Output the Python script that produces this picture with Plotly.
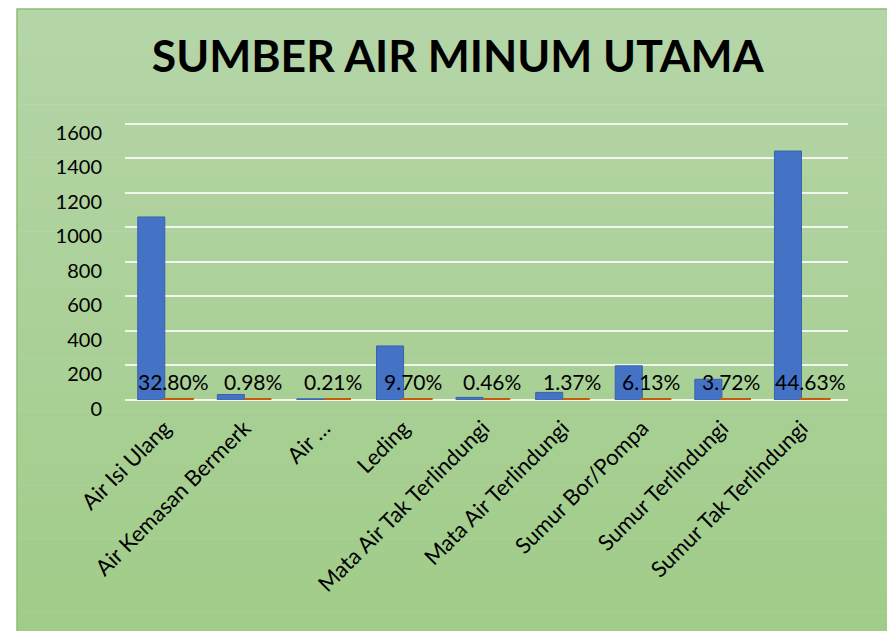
import plotly.graph_objects as go

# ---- data ----
categories = ["Air Isi Ulang", "Air Kemasan Bermerk", "Air …", "Leding",
              "Mata Air Tak Terlindungi", "Mata Air Terlindungi",
              "Sumur Bor/Pompa", "Sumur Terlindungi", "Sumur Tak Terlindungi"]
jumlah = [1060, 32, 7, 313, 15, 44, 198, 120, 1442]
persen = [0.3280, 0.0098, 0.0021, 0.0970, 0.0046, 0.0137, 0.0613, 0.0372, 0.4463]
y_ticks = [0, 200, 400, 600, 800, 1000, 1200, 1400, 1600]
title_text = "SUMBER AIR MINUM UTAMA"

W, H = 895, 631
OFF = 8  # page body margin
L, R, T, B = 125 - OFF, 47 + OFF, 122 - OFF, 231 + OFF
FONT = "Lato"

def px_to_paper(x, y):
    return (x - L) / (W - L - R), 1 - (y - T) / (H - T - B)

fig = go.Figure()
fig.add_trace(go.Bar(
    x=categories, y=jumlah, name="Jumlah",
    marker=dict(color="#4472c4", line=dict(color="#3a62ad", width=1)),
    hoverinfo="x+y",
))
fig.add_trace(go.Bar(
    x=categories, y=persen, name="Persen",
    marker=dict(color="#c55a11", line=dict(color="#c55a11", width=4)),
    hoverinfo="x+y",
))

# data labels (percent)
for c, p in zip(categories, persen):
    fig.add_annotation(x=c, y=0, xref="x", yref="y", text=f"{p*100:.2f}%",
                       showarrow=False, yanchor="middle", yshift=19, xshift=9,
                       font=dict(family=FONT, size=21, color="#000000"))

# gradient background (chart area) + border
x0, y0 = 17 - OFF, 9 - OFF
x1, y1 = W + 5, H + 5
n = 60
top = (181, 213, 168)
bot = (160, 204, 136)
for i in range(n):
    ya = y0 + (y1 - y0) * i / n
    yb = y0 + (y1 - y0) * (i + 1) / n + 0.6
    t = i / (n - 1)
    col = tuple(round(top[k] + (bot[k] - top[k]) * t) for k in range(3))
    pa = px_to_paper(x0, ya)
    pb = px_to_paper(x1, yb)
    fig.add_shape(type="rect", xref="paper", yref="paper", layer="below",
                  x0=pa[0], x1=pb[0], y0=pb[1], y1=pa[1],
                  fillcolor="rgb(%d,%d,%d)" % col, line=dict(width=0))
pa = px_to_paper(x0, y0)
pb = px_to_paper(x1, y1)
fig.add_shape(type="rect", xref="paper", yref="paper", layer="below",
              x0=pa[0], x1=pb[0], y0=pb[1], y1=pa[1],
              fillcolor="rgba(0,0,0,0)", line=dict(color="#8cbf73", width=1.5))

fig.update_layout(
    width=W, height=H,
    margin=dict(l=L, r=R, t=T, b=B, pad=0),
    paper_bgcolor="white",
    plot_bgcolor="rgba(0,0,0,0)",
    barmode="group", bargap=0.32, bargroupgap=0.0,
    showlegend=False,
    title=dict(text=f"<b>{title_text}</b>", x=(457.7 - OFF) / W, xanchor="center",
               y=1 - (56 - OFF) / H, yanchor="middle",
               font=dict(family=FONT, size=44.5, color="#000000")),
    font=dict(family=FONT, color="#000000"),
)
fig.update_xaxes(
    showgrid=False, zeroline=False, showline=False, ticks="",
    tickangle=-45, tickfont=dict(family=FONT, size=22, color="#000000"),
    ticklabelstandoff=10, automargin=False,
)
fig.update_yaxes(
    range=[0, 1610], tickvals=y_ticks, showgrid=True, gridcolor="#f2f7ee",
    gridwidth=2, zeroline=True, zerolinecolor="#f2f7ee", zerolinewidth=2,
    showline=False, ticks="", tickfont=dict(family=FONT, size=20, color="#000000"),
    ticklabelstandoff=22, ticklabelshift=9, automargin=False,
)

fig.write_html("out.html")
